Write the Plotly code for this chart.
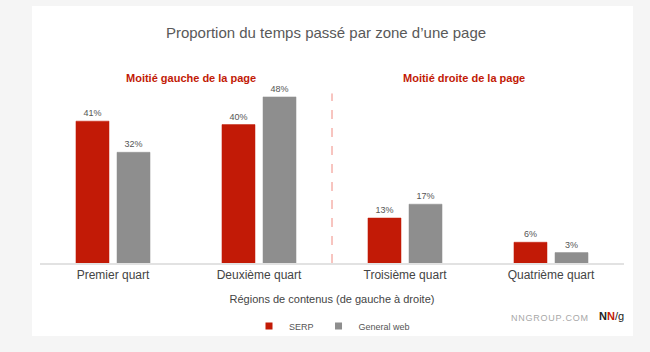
import plotly.graph_objects as go

categories = ["Premier quart", "Deuxième quart", "Troisième quart", "Quatrième quart"]
serp = [41, 40, 13, 6]
general_web = [32, 48, 17, 3]
series_names = ["SERP", "General web"]
series_colors = ["#c21a06", "#8e8e8e"]

FONT = "Liberation Sans, Arial, sans-serif"

fig = go.Figure()
for name, vals, col in zip(series_names, [serp, general_web], series_colors):
    fig.add_trace(go.Bar(
        x=categories, y=vals, name=name,
        marker=dict(color=col, line=dict(color=col, width=0.5)),
        texttemplate="%{y}%", textposition="outside", cliponaxis=False,
        textfont=dict(size=9, color="#555555", family=FONT),
        showlegend=False,
    ))
    # small-square legend entries
    fig.add_trace(go.Scatter(
        x=[None], y=[None], mode="markers", name=name,
        marker=dict(symbol="square", size=7, color=col),
        showlegend=True,
    ))

# white card behind the chart
fig.add_shape(type="rect", xref="paper", yref="paper",
              x0=-0.0137, x1=1.0155, y0=-0.422, y1=1.485,
              fillcolor="white", line=dict(width=0), layer="below")
# dashed divider between halves
fig.add_shape(type="line", xref="x", yref="y", x0=1.5, x1=1.5, y0=0, y1=49,
              line=dict(color="#f08a80", width=1, dash="dash"))

for txt, px in [("<b>Moitié gauche de la page</b>", 191), ("<b>Moitié droite de la page</b>", 464)]:
    fig.add_annotation(text=txt, xref="paper", yref="paper",
                       x=(px - 40) / 584, y=(263 - 70) / 173, showarrow=False,
                       font=dict(size=11, color="#c21a06", family=FONT), xanchor="center")

fig.add_annotation(text="N N G R O U P . C O M".replace(" ", "\u200a"), xref="paper", yref="paper",
                   x=(590 - 40) / 584, y=(263 - 325) / 173, showarrow=False,
                   xanchor="right", font=dict(size=9, color="#a8a8a8", family=FONT))
fig.add_annotation(text="<b>N<span style='color:#c21a06'>N</span></b>/g", xref="paper", yref="paper",
                   x=(597 - 40) / 584, y=(263 - 324) / 173, showarrow=False,
                   xanchor="left", font=dict(size=11, color="#222222", family=FONT))

fig.update_layout(
    width=650, height=352,
    margin=dict(l=40, r=26, t=90, b=89),
    paper_bgcolor="#f5f5f5",
    plot_bgcolor="rgba(0,0,0,0)",
    barmode="group", bargap=0.438, bargroupgap=0.195,
    title=dict(text="Proportion du temps passé par zone d’une page",
               x=(326) / 650, xanchor="center", y=1 - 33 / 352, yanchor="middle",
               font=dict(size=15, color="#595959", family=FONT)),
    font=dict(family=FONT),
    legend=dict(orientation="h", x=0.5, xanchor="center", y=(263 - 326) / 173, yanchor="middle",
                font=dict(size=9, color="#555555", family=FONT), itemwidth=30,
                bgcolor="rgba(0,0,0,0)"),
    xaxis=dict(showline=True, linecolor="#e2e2e2", linewidth=2, ticks="",
               tickfont=dict(size=12, color="#444444", family=FONT),
               title=dict(text="Régions de contenus (de gauche à droite)", standoff=14,
                          font=dict(size=11, color="#444444", family=FONT))),
    yaxis=dict(range=[0, 50], visible=False, showgrid=False, zeroline=False),
)

fig.write_html("out.html")
